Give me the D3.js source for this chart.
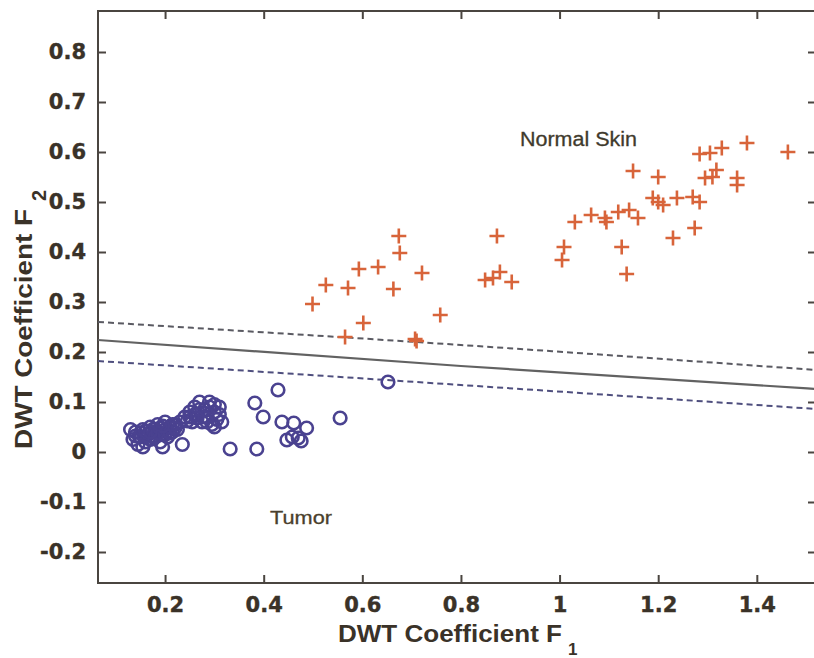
<!DOCTYPE html>
<html><head><meta charset="utf-8">
<script src="https://cdn.jsdelivr.net/npm/d3@7"></script>
<style>html,body{margin:0;padding:0;background:#fff;overflow:hidden}</style>
</head><body>
<svg id="c" width="814" height="658"></svg>
<script>
// ---- data ----
const xTicks = [0.2, 0.4, 0.6, 0.8, 1, 1.2, 1.4];
const yTicks = [-0.2, -0.1, 0, 0.1, 0.2, 0.3, 0.4, 0.5, 0.6, 0.7, 0.8];
const xTickLabels = ["0.2","0.4","0.6","0.8","1","1.2","1.4"];
const yTickLabels = ["-0.2","-0.1","0","0.1","0.2","0.3","0.4","0.5","0.6","0.7","0.8"];

const tumorX = [0.13,0.135,0.14,0.145,0.15,0.155,0.16,0.165,0.17,0.175,0.18,0.185,0.19,0.19,0.195,0.2,0.2,0.205,0.21,0.215,0.22,0.225,0.235,0.23,
  0.24,0.25,0.255,0.26,0.265,0.27,0.275,0.28,0.285,0.29,0.295,0.3,0.305,0.31,0.315,0.3,
  0.14,0.15,0.16,0.17,0.175,0.18,0.185,0.19,0.2,0.205,0.21,0.215,0.22,0.195,0.17,0.155,0.245,0.25,0.26,0.27,0.28,0.29,0.3,0.31,0.285,0.265,
  0.429,0.382,0.399,0.437,0.461,0.487,0.447,0.458,0.470,0.476,0.386,0.332,0.555,0.652];
const tumorY = [0.045,0.025,0.04,0.015,0.03,0.045,0.02,0.035,0.05,0.03,0.04,0.055,0.02,0.035,0.01,0.045,0.06,0.03,0.05,0.04,0.055,0.045,0.015,0.06,
  0.07,0.08,0.06,0.09,0.075,0.1,0.06,0.085,0.07,0.1,0.055,0.08,0.065,0.09,0.06,0.05,
  0.032,0.038,0.042,0.025,0.045,0.03,0.038,0.048,0.035,0.042,0.038,0.055,0.048,0.052,0.04,0.01,0.062,0.07,0.075,0.085,0.07,0.09,0.095,0.075,0.06,0.068,
  0.124,0.098,0.07,0.06,0.058,0.048,0.024,0.03,0.028,0.022,0.006,0.006,0.068,0.14];

const normalX = [0.499,0.526,0.571,0.593,0.632,0.663,0.674,0.676,0.602,0.565,0.707,0.710,0.721,0.758,
  0.873,0.849,0.865,0.879,0.903,1.005,1.009,1.031,1.064,1.092,1.095,1.119,1.141,1.159,1.126,1.136,
  1.149,1.2,1.189,1.2,1.21,1.238,1.27,1.284,1.23,1.274,1.284,1.305,1.329,1.38,1.463,1.318,1.31,1.295,1.36,1.36];
const normalY = [0.296,0.334,0.328,0.366,0.37,0.326,0.432,0.398,0.258,0.23,0.226,0.222,0.358,0.274,
  0.432,0.344,0.348,0.36,0.34,0.384,0.41,0.46,0.474,0.468,0.46,0.48,0.484,0.468,0.41,0.356,
  0.562,0.55,0.508,0.5,0.494,0.508,0.51,0.5,0.428,0.448,0.596,0.598,0.608,0.618,0.6,0.564,0.55,0.548,0.548,0.534];

const boundaryX = [0.064, 0.8, 1.52];
const boundaryMid = [0.224, 0.172, 0.126];
const boundaryUpper = [0.26, 0.214, 0.164];
const boundaryLower = [0.182, 0.134, 0.086];

// ---- layout ----
const L = 98, R = 816, T = 11, B = 583;
const x = d3.scaleLinear().domain([0.064, 1.52]).range([L, R]);
const y = d3.scaleLinear().domain([-0.262, 0.882]).range([B, T]);
const svg = d3.select("#c");
const axisCol = "#4a4540", textCol = "#3a3228";

// frame
svg.append("rect").attr("x", L).attr("y", T).attr("width", R - L).attr("height", B - T)
  .attr("fill", "none").attr("stroke", axisCol).attr("stroke-width", 2);

// axes (ticks inward)
const ax = d3.axisBottom(x).tickValues(xTicks).tickSize(-8).tickPadding(14).tickFormat((d,i)=>xTickLabels[i]);
const gx = svg.append("g").attr("transform", `translate(0,${B})`).call(ax);
const axT = d3.axisTop(x).tickValues(xTicks).tickSize(-8).tickFormat("");
const gxt = svg.append("g").attr("transform", `translate(0,${T})`).call(axT);
const ay = d3.axisLeft(y).tickValues(yTicks).tickSize(-8).tickPadding(12).tickFormat((d,i)=>yTickLabels[i]);
const gy = svg.append("g").attr("transform", `translate(${L},0)`).call(ay);
const ayR = d3.axisRight(y).tickValues(yTicks).tickSize(-8).tickFormat("");
const gyr = svg.append("g").attr("transform", `translate(${R},0)`).call(ayR);
[gx, gxt, gy, gyr].forEach(g => {
  g.select(".domain").remove();
  g.selectAll(".tick line").attr("stroke", axisCol).attr("stroke-width", 2);
  g.selectAll("text").attr("fill", textCol).style("font-family", "DejaVu Sans")
    .style("font-weight", "bold").style("font-size", "21px")
    .attr("stroke", textCol).attr("stroke-width", 0.4);
});
gx.selectAll("text").attr("dy", "0.71em");

// boundary lines
const pts = arr => boundaryX.map((v, i) => [x(v), y(arr[i])]);
const line = d3.line().curve(d3.curveMonotoneX);
svg.append("path").attr("d", line(pts(boundaryUpper))).attr("fill", "none")
  .attr("stroke", "#5a5a62").attr("stroke-width", 2).attr("stroke-dasharray", "6,4");
svg.append("path").attr("d", line(pts(boundaryLower))).attr("fill", "none")
  .attr("stroke", "#4f4f7e").attr("stroke-width", 2).attr("stroke-dasharray", "6,4");
svg.append("path").attr("d", line(pts(boundaryMid))).attr("fill", "none")
  .attr("stroke", "#626262").attr("stroke-width", 2.2);

// tumor circles
svg.append("g").selectAll("circle").data(tumorX).join("circle")
  .attr("cx", d => x(d)).attr("cy", (d, i) => y(tumorY[i])).attr("r", 6.3)
  .attr("fill", "none").attr("stroke", "#4a4290").attr("stroke-width", 2.6);

// normal skin plus markers
const gp = svg.append("g");
normalX.forEach((v, i) => {
  const cx = x(v), cy = y(normalY[i]);
  gp.append("path").attr("d", `M${cx-7.5},${cy}H${cx+7.5}M${cx},${cy-7.5}V${cy+7.5}`)
    .attr("stroke", "#d8643a").attr("stroke-width", 2.6).attr("fill", "none");
});

// annotations
svg.append("text").attr("x", 520).attr("y", 146).text("Normal Skin")
  .attr("fill", "#3f3a2c").style("font-family", "Liberation Sans").style("font-size", "20px")
  .attr("stroke", "#3f3a2c").attr("stroke-width", 0.3)
  .attr("textLength", 117).attr("lengthAdjust", "spacingAndGlyphs");
svg.append("text").attr("x", 270).attr("y", 524).text("Tumor")
  .attr("fill", "#4a3f2c").style("font-family", "Liberation Sans").style("font-size", "19px")
  .attr("stroke", "#4a3f2c").attr("stroke-width", 0.3)
  .attr("textLength", 62).attr("lengthAdjust", "spacingAndGlyphs");

// axis labels
const xl = svg.append("text").attr("x", 338).attr("y", 642).attr("fill", textCol)
  .style("font-family", "Liberation Sans").style("font-weight", "bold").style("font-size", "24px");
xl.append("tspan").text("DWT Coefficient F").attr("textLength", 224).attr("lengthAdjust", "spacingAndGlyphs");
svg.append("text").attr("x", 568).attr("y", 655).attr("fill", textCol).text("1")
  .style("font-family", "Liberation Sans").style("font-weight", "bold").style("font-size", "17px");

const yl = svg.append("g").attr("transform", "translate(32,449) rotate(-90)");
yl.append("text").attr("x", 0).attr("y", 0).text("DWT Coefficient F").attr("fill", textCol)
  .style("font-family", "Liberation Sans").style("font-weight", "bold").style("font-size", "24px")
  .attr("textLength", 240).attr("lengthAdjust", "spacingAndGlyphs");
yl.append("text").attr("x", 248).attr("y", 14).text("2").attr("fill", textCol)
  .style("font-family", "Liberation Sans").style("font-weight", "bold").style("font-size", "20px");
</script>
</body></html>
